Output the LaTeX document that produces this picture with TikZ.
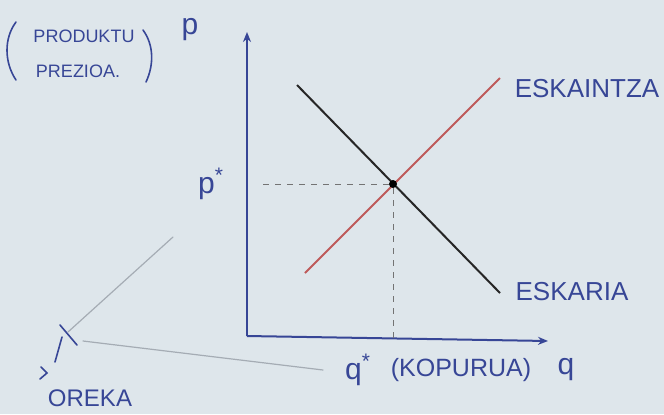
\documentclass[tikz,border=0pt]{standalone}
\usepackage{fontspec}
\setmainfont{Liberation Sans}
\usetikzlibrary{arrows.meta, positioning}

\definecolor{board}{RGB}{222,230,235}
\definecolor{ink}{RGB}{55,70,150}
\definecolor{redink}{RGB}{190,90,90}
\definecolor{pencil}{RGB}{165,172,180}

\begin{document}
\begin{tikzpicture}[x=0.5pt, y=-0.5pt,
    axis/.style={draw=ink, line width=1pt, -{Stealth[length=5pt, width=4pt]}},
    curve/.style={line width=1pt},
    guide/.style={draw=black!55, dashed, line width=0.4pt},
    lbl/.style={text=ink, inner sep=0pt, font=\fontsize{13}{15}\selectfont},
    small/.style={font=\fontsize{9}{11}\selectfont},
    stroke/.style={draw=ink, line width=0.8pt, line cap=round},
    faint/.style={draw=pencil, line width=0.6pt, line cap=round},
]
    \fill[board] (0,0) rectangle (664,414);
    \useasboundingbox (0,0) rectangle (664,414);

    % axes
    \coordinate (O) at (247,336);
    \coordinate (ytop) at (247,32);
    \coordinate (xend) at (548,341);
    \draw[axis] (O) -- (ytop);
    \draw[axis] (O) -- (xend);

    % demand and supply
    \coordinate (d1) at (297,85);
    \coordinate (d2) at (500,293);
    \coordinate (s1) at (305,273);
    \coordinate (s2) at (500,78);
    \draw[curve, redink] (s1) -- (s2);
    \draw[curve, black!85] (d1) -- (d2);

    \node[circle, fill=black, inner sep=0pt, minimum size=4pt] (E) at (393,184) {};
    \draw[guide] (E) -- ([xshift=6pt]E -| O);
    \draw[guide] (E) -- ([yshift=-1pt]E |- O);

    % labels
    \node[lbl, font=\fontsize{15}{17}\selectfont] (pstar) at (211,184) {p\textsuperscript{*}};
    \node[lbl, font=\fontsize{15}{17}\selectfont] (pax) at (190,30) {p};
    \node[lbl] (supL) at (587,89) {ESKAINTZA};
    \node[lbl] (demL) at (572,292) {ESKARIA};
    \node[lbl, font=\fontsize{15}{17}\selectfont] (qstar) at (358,370) {q\textsuperscript{*}};
    \node[lbl, font=\fontsize{12.5}{15}\selectfont] (qtxt) at (461,370) {(KOPURUA)};
    \node[lbl, font=\fontsize{15}{17}\selectfont] (qax) at (566,370) {q};

    \node[lbl, small] (prodL) at (84,36) {PRODUKTU};
    \node[lbl, small] (prezL) at (78,71) {PREZIOA.};
    \draw[stroke] (16,22) .. controls (4,38) and (4,62) .. (16,80);
    \draw[stroke] (143,30) .. controls (154,45) and (154,65) .. (146,82);

    % oreka
    \node[lbl, font=\fontsize{12}{14}\selectfont] (orekaL) at (90,398) {OREKA};
    \coordinate (tip) at (68,332);
    \draw[faint] (tip) -- (173,237);
    \draw[faint] (83,341) -- (323,370);
    \draw[stroke] (60,325) -- (77,345);
    \draw[stroke] (62,337) -- (55,362);
    \draw[stroke] (41,367) -- (47,373) -- (40,379);
\end{tikzpicture}
\end{document}
